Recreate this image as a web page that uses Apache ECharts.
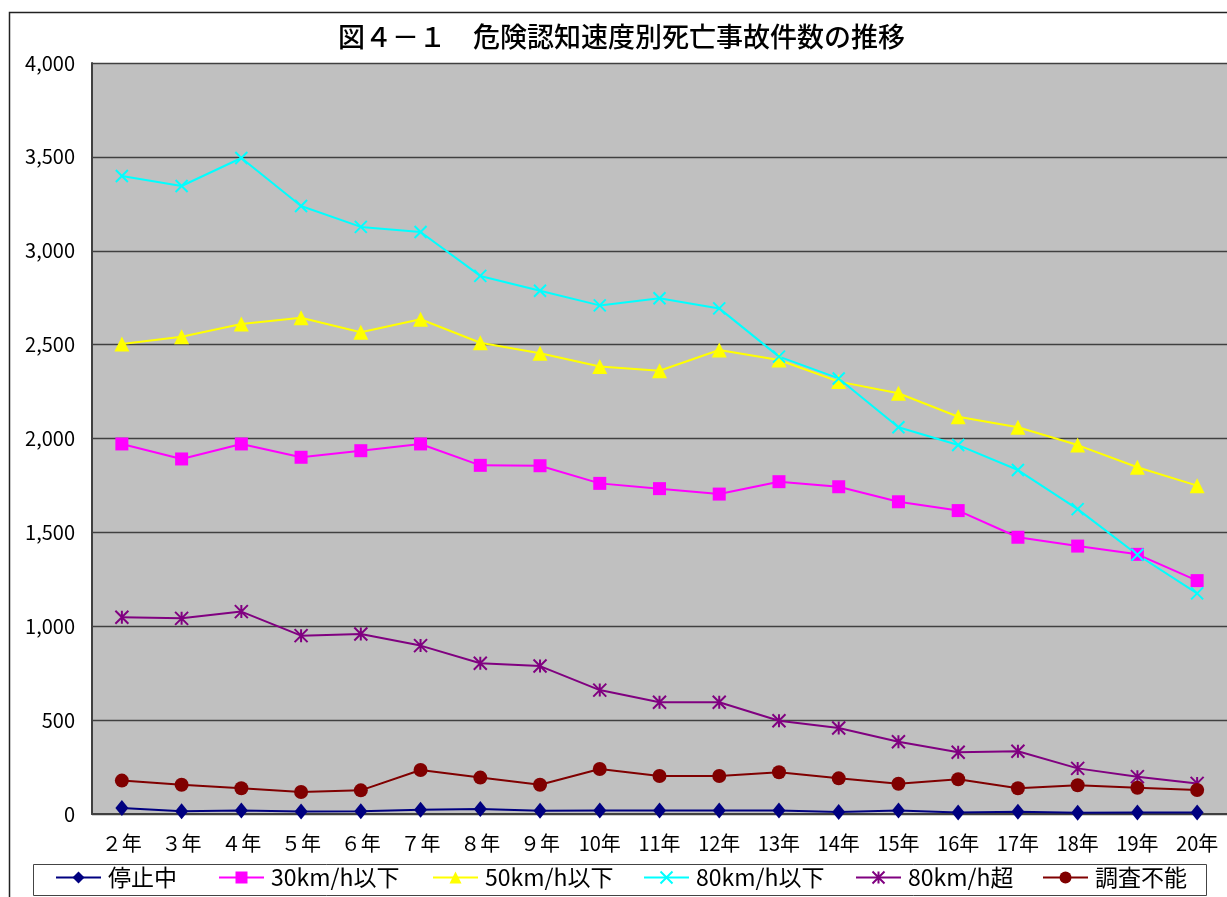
<!DOCTYPE html>
<html><head><meta charset="utf-8">
<script src="https://cdn.jsdelivr.net/npm/echarts@6/dist/echarts.min.js"></script>
<style>html,body{margin:0;padding:0;background:#fff}#c{width:1227px;height:897px}</style>
</head><body><div id="c"></div>
<script>
const titleText = '図４－１　危険認知速度別死亡事故件数の推移';
const categories = ['２年','３年','４年','５年','６年','７年','８年','９年','10年','11年','12年','13年','14年','15年','16年','17年','18年','19年','20年'];
const seriesNames = ['停止中','30km/h以下','50km/h以下','80km/h以下','80km/h超','調査不能'];
const stopped = [32,14,19,13,15,22,27,17,19,19,18,18,10,18,8,12,6,8,8];
const under30 = [1971,1891,1971,1900,1935,1971,1857,1855,1761,1733,1704,1770,1743,1663,1616,1474,1427,1383,1243];
const under50 = [2503,2542,2610,2643,2566,2635,2510,2454,2383,2361,2471,2418,2303,2241,2116,2060,1965,1847,1749];
const under80 = [3398,3345,3494,3238,3127,3100,2866,2787,2709,2747,2693,2436,2320,2060,1965,1832,1624,1381,1175];
const over80 = [1048,1042,1078,950,959,897,803,788,660,595,595,497,458,385,329,334,243,199,163];
const unknown = [178,156,137,117,126,234,194,156,240,202,202,222,190,161,185,137,153,140,128];
const yTicks = [0,500,1000,1500,2000,2500,3000,3500,4000];

const FONT = '"Noto Sans CJK JP", "Noto Sans", sans-serif';
const colors = ['#000080','#FF00FF','#FFFF00','#00FFFF','#800080','#800000'];
const X_PATH = 'path://M0,0L10,10M10,0L0,10';
const AST_PATH = 'path://M0,0L10,10M10,0L0,10M5,0L5,10';
const symbols = ['diamond','rect','triangle',X_PATH,AST_PATH,'circle'];
const sizes = [[13,16],13,15,12,13,14];
const dataSets = [stopped,under30,under50,under80,over80,unknown];
const legendLeft = [55,218,432,643,855,1042];

const chart = echarts.init(document.getElementById('c'));
const series = seriesNames.map((n,i)=>({
  name:n, type:'line', data:dataSets[i], symbol:symbols[i], symbolSize:sizes[i],
  showAllSymbol:true,
  lineStyle:{color:colors[i], width:2},
  itemStyle:{color:colors[i], borderColor:colors[i], borderWidth:(i===3||i===4)?2:0},
  emphasis:{disabled:true}, animation:false
}));
const legends = seriesNames.map((n,i)=>({
  data:[n], left:legendLeft[i], top:866, itemWidth:45, itemHeight:15, itemGap:0,
  textStyle:{fontFamily:FONT, fontSize:23, color:'#000', padding:[0,0,0,2]},
  padding:0, selectedMode:false
}));
chart.setOption({
  backgroundColor:'#fff',
  animation:false,
  title:{text:titleText, left:338, top:23, padding:0, textStyle:{fontFamily:FONT, fontSize:27, fontWeight:500, color:'#000'}},
  legend:legends,
  grid:{left:92, top:63, width:1137, height:751, show:true, backgroundColor:'#C0C0C0', borderWidth:0, containLabel:false},
  xAxis:{type:'category', data:categories, boundaryGap:true,
    axisLine:{lineStyle:{color:'#404040', width:2}},
    axisTick:{inside:true, length:5, interval:0, lineStyle:{color:'#202020'}},
    axisLabel:{fontFamily:FONT, fontSize:20, color:'#000', margin:19, interval:0}},
  yAxis:{type:'value', min:0, max:4000, interval:500,
    axisLine:{show:true, lineStyle:{color:'#404040', width:2}},
    axisTick:{show:false},
    splitLine:{lineStyle:{color:'#404040', width:1.3}},
    axisLabel:{fontFamily:FONT, fontSize:20, color:'#000', margin:17,
      formatter:v=>v.toLocaleString('en-US')}},
  series:series,
  graphic:[
    {type:'rect', shape:{x:9.5, y:12.5, width:1240, height:900}, style:{fill:'none', stroke:'#222', lineWidth:1.5}, silent:true, z:-1},
    {type:'rect', shape:{x:33.5, y:864.5, width:1173, height:31}, style:{fill:'#fff', stroke:'#444', lineWidth:1}, silent:true, z:-1}
  ]
});
</script></body></html>
